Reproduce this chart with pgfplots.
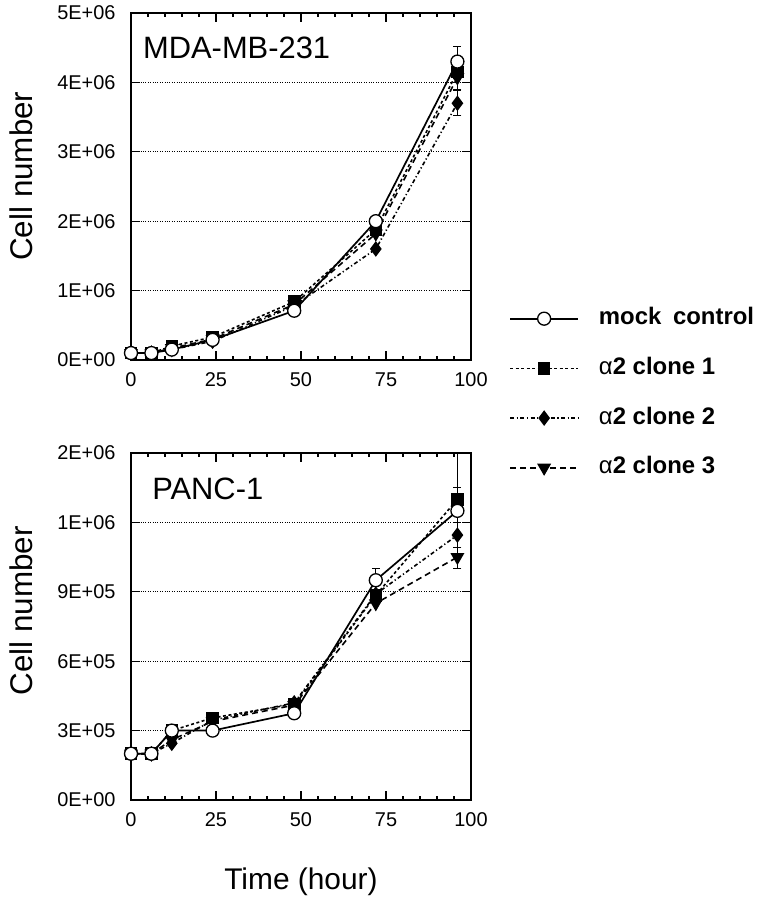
\documentclass[border=0pt]{standalone}
\usepackage{fontspec}
\setmainfont{Liberation Sans}
\usepackage{pgfplots}
\pgfplotsset{compat=1.18}

\pgfplotsset{
  panel/.style={
    scale only axis, width=340bp, height=347bp,
    xmin=0, xmax=100, xtick={0,25,50,75,100}, xticklabels={0,25,50,75,100},
    minor x tick num=4,
    scaled y ticks=false,
    tick align=inside,
    major tick length=9bp, minor tick length=4bp,
    every tick/.style={black, line width=1.1bp},
    axis line style={line width=1.8bp, black},
    ymajorgrids,
    major grid style={black, line width=0.8bp, dash pattern=on 1bp off 1.4bp},
    /pgf/number format/assume math mode=true,
    xticklabel style={font=\fontsize{20}{24}\selectfont, yshift=-9bp},
    yticklabel style={font=\fontsize{20}{24}\selectfont, xshift=-12bp},
    ylabel style={font=\fontsize{31.5}{36}\selectfont, anchor=center},
    legend image code/.code={\draw[mark repeat=2, mark phase=2, #1] plot coordinates {(0bp,0bp) (34bp,0bp) (68bp,0bp)};},
    error bars/error bar style={solid, line width=1bp, black},
    error bars/error mark options={solid, rotate=90, mark size=4bp, line width=1bp, black},
  },
  mockst/.style={black, solid, line width=1.7bp, mark=*, mark size=6.5bp, mark options={solid, fill=white, draw=black, line width=1.3bp}},
  c1st/.style={black, line width=1.6bp, dash pattern=on 3bp off 2.5bp, mark=square*, mark size=5.5bp, mark options={solid, fill=black}},
  c2st/.style={black, line width=1.6bp, dash pattern=on 4bp off 2.5bp on 1.2bp off 2.5bp, mark=diamond*, mark size=6.5bp, mark options={solid, fill=black}},
  c3st/.style={black, line width=1.6bp, dash pattern=on 6bp off 4bp, mark=triangle*, mark size=6.5bp, mark options={solid, fill=black, rotate=180}},
}

\begin{document}
\begin{tikzpicture}
\useasboundingbox (0bp,0bp) rectangle (768bp,900bp);

% ---------------- top panel ----------------
\begin{axis}[panel,
  at={(131bp,540bp)}, anchor=south west,
  ymin=0, ymax=5e6,
  ytick={0,1e6,2e6,3e6,4e6,5e6},
  yticklabels={0E+00,1E+06,2E+06,3E+06,4E+06,5E+06},
  ylabel={Cell number},
  ylabel style={at={(axis description cs:-0.3235,0.53)}},
  reverse legend,
  legend cell align=left,
  legend style={at={(rel axis cs:1.112,0.16)}, anchor=north west, draw=none, fill=none,
    inner sep=0pt, row sep=21.7bp, font=\fontsize{24}{28}\selectfont,
    nodes={inner sep=3bp, text height=17bp, text depth=5bp},
    /tikz/every odd column/.append style={column sep=17bp}},
]
\addplot[c3st, error bars/.cd, y dir=both, y explicit] coordinates {
 (0,1.0e5) +- (0,0) (6,1.0e5) +- (0,0) (12,1.7e5) +- (0,0) (24,3.0e5) +- (0,0)
 (48,8.0e5) +- (0,0) (72,1.82e6) +- (0,0) (96,4.07e6) +- (0,0.17e6)};
\addlegendentry{α\textbf{2 clone 3}}
\addplot[c2st, error bars/.cd, y dir=both, y explicit] coordinates {
 (0,1.0e5) +- (0,0) (6,1.0e5) +- (0,0) (12,1.5e5) +- (0,0) (24,2.7e5) +- (0,0)
 (48,7.8e5) +- (0,0) (72,1.6e6) +- (0,0) (96,3.7e6) +- (0,0.18e6)};
\addlegendentry{α\textbf{2 clone 2}}
\addplot[c1st, error bars/.cd, y dir=both, y explicit] coordinates {
 (0,1.0e5) +- (0,0) (6,1.0e5) +- (0,0) (12,2.0e5) +- (0,0) (24,3.3e5) +- (0,0)
 (48,8.4e5) +- (0,0) (72,1.88e6) +- (0,0) (96,4.15e6) +- (0,0.1e6)};
\addlegendentry{α\textbf{2 clone 1}}
\addplot[mockst, error bars/.cd, y dir=both, y explicit] coordinates {
 (0,1.0e5) +- (0,0) (6,1.0e5) +- (0,0) (12,1.5e5) +- (0,0) (24,2.9e5) +- (0,0)
 (48,7.1e5) +- (0,0) (72,2.0e6) +- (0,0) (96,4.3e6) +- (0,0.22e6)};
\addlegendentry{\textbf{mock\hspace{5bp} control}}
\node[anchor=base west, font=\fontsize{31}{36}\selectfont, inner sep=0pt] at (rel axis cs:0.035,0.870) {MDA-MB-231};
\end{axis}

% ---------------- bottom panel ----------------
\begin{axis}[panel,
  at={(131bp,100bp)}, anchor=south west,
  ymin=0, ymax=1.5e6,
  ytick={0,3e5,6e5,9e5,1.2e6,1.5e6},
  yticklabels={0E+00,3E+05,6E+05,9E+05,1E+06,2E+06},
  ylabel={Cell number},
  ylabel style={at={(axis description cs:-0.3235,0.545)}},
  xlabel={Time (hour)},
  xlabel style={at={(axis description cs:0.5,-0.259)}, anchor=base, font=\fontsize{30}{36}\selectfont},
]
\addplot[c3st, error bars/.cd, y dir=both, y explicit] coordinates {
 (0,2.0e5) +- (0,0) (6,2.0e5) +- (0,0) (12,2.6e5) +- (0,0) (24,3.4e5) +- (0,0)
 (48,4.1e5) +- (0,0) (72,8.5e5) +- (0,0) (96,1.05e6) +- (0,0)};
\addplot[c2st, error bars/.cd, y dir=both, y explicit] coordinates {
 (0,2.0e5) +- (0,0) (6,2.0e5) +- (0,0) (12,2.45e5) +- (0,0) (24,3.45e5) +- (0,0)
 (48,4.2e5) +- (0,0) (72,8.9e5) +- (0,0) (96,1.145e6) +- (0,0.055e6)};
\addplot[c1st, error bars/.cd, y dir=both, y explicit] coordinates {
 (0,2.0e5) +- (0,0) (6,2.0e5) +- (0,0) (12,3.0e5) +- (0,0) (24,3.55e5) +- (0,0)
 (48,4.15e5) +- (0,0) (72,8.85e5) +- (0,0) (96,1.3e6) +- (0,0.3e6)};
\addplot[mockst, error bars/.cd, y dir=both, y explicit] coordinates {
 (0,2.0e5) +- (0,0) (6,2.0e5) +- (0,0) (12,3.0e5) +- (0,0) (24,3.0e5) +- (0,0)
 (48,3.75e5) +- (0,0) (72,9.5e5) +- (0,0.05e6) (96,1.25e6) +- (0,0.1e6)};
\node[anchor=base west, font=\fontsize{31}{36}\selectfont, inner sep=0pt] at (rel axis cs:0.062,0.8646) {PANC-1};
\end{axis}
\end{tikzpicture}
\end{document}
